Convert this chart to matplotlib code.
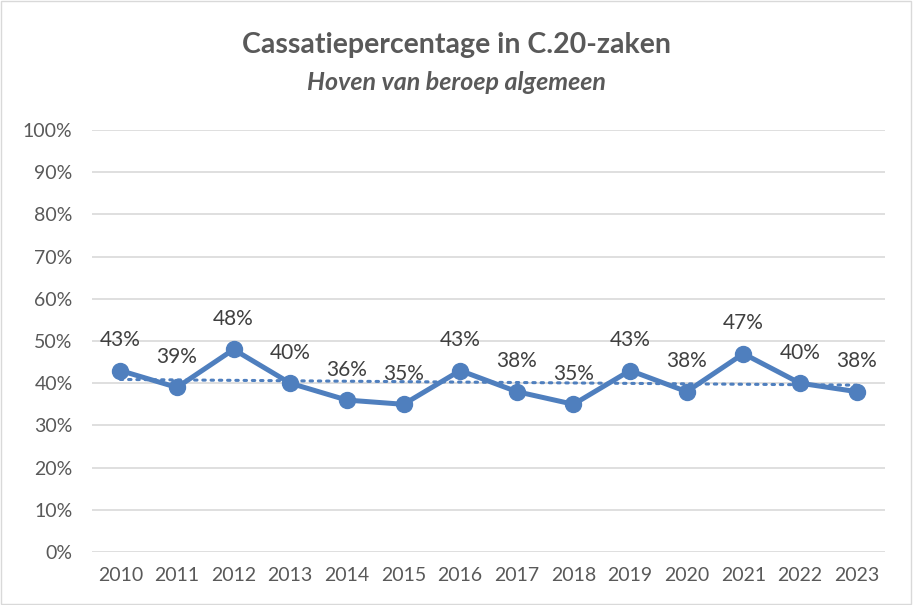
import matplotlib
matplotlib.use("Agg")
import matplotlib.pyplot as plt
import numpy as np
from matplotlib.patches import Rectangle
from matplotlib.ticker import PercentFormatter

plt.rcParams["font.family"] = ["Lato", "DejaVu Sans"]

# =============================================================================
# Data
# =============================================================================

years = [2010, 2011, 2012, 2013, 2014, 2015, 2016,
         2017, 2018, 2019, 2020, 2021, 2022, 2023]
pct = [43, 39, 48, 40, 36, 35, 43, 38, 35, 43, 38, 47, 40, 38]

LINE = "#4F7FBE"
GRID = "#D9D9D9"
TEXT = "#595959"
LABEL = "#404040"

x = np.arange(len(years))
y = np.array(pct) / 100

# linear trend line, as in the spreadsheet
slope, icpt = np.polyfit(x, y, 1)
trend = slope * x + icpt

# =============================================================================
# Plot
# =============================================================================

fig = plt.figure(figsize=(9.13, 6.05), dpi=100)
ax = fig.add_axes([92 / 913, 1 - 552 / 605, 793 / 913, 422 / 605])

ax.plot(x, trend, color=LINE, linewidth=2.2, linestyle=(0, (0.8, 1.9)),
        dash_capstyle="round", zorder=2)
ax.plot(x, y, color=LINE, linewidth=3.6, marker="o", markersize=11.5,
        zorder=3)

for xi, yi, p in zip(x, y, pct):
    ax.annotate(f"{p}%", (xi, yi), xytext=(0, 22), textcoords="offset points",
                ha="center", va="center", fontsize=15, color=LABEL)

ax.set_xlim(-0.5, len(years) - 0.5)
ax.set_ylim(0, 1.0)
ax.set_yticks(np.arange(0, 1.01, 0.1))
ax.yaxis.set_major_formatter(PercentFormatter(1.0, decimals=0))
ax.set_xticks(x)
ax.set_xticklabels([str(yr) for yr in years])
ax.tick_params(axis="both", length=0, labelsize=14, labelcolor=TEXT)
ax.tick_params(axis="x", pad=11)
ax.tick_params(axis="y", pad=14)
ax.grid(axis="y", color=GRID, linewidth=1.2)
ax.set_axisbelow(True)
for s in ax.spines.values():
    s.set_visible(False)

fig.text(0.5, 1 - 45 / 605, "Cassatiepercentage in C.20-zaken",
         ha="center", va="center", fontsize=20.5, fontweight="bold", color=TEXT)
fig.text(0.5, 1 - 82 / 605, "Hoven van beroep algemeen",
         ha="center", va="center", fontsize=18, fontweight="bold",
         fontstyle="italic", color=TEXT)

fig.patches.append(Rectangle((0.001, 0.001), 0.997, 0.997,
                             transform=fig.transFigure, fill=False,
                             edgecolor=GRID, linewidth=1))

fig.savefig("out.png", dpi=100)
